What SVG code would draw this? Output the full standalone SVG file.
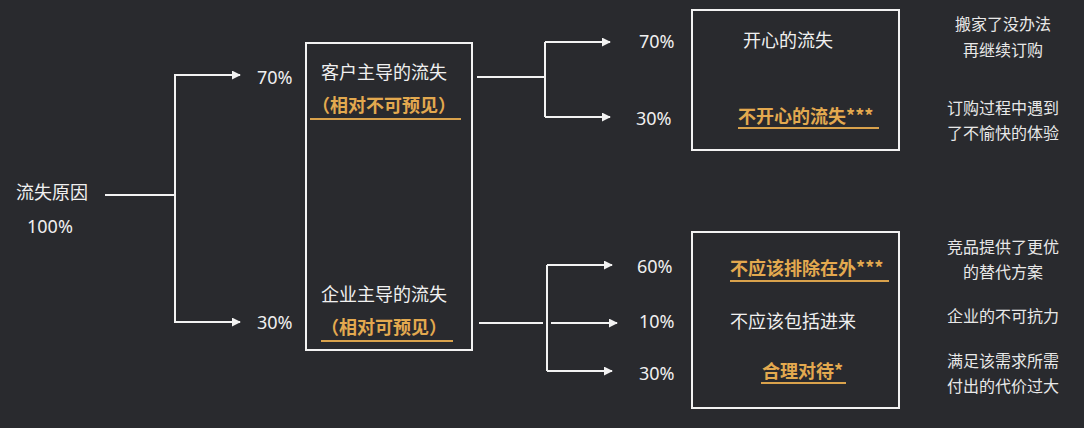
<svg xmlns="http://www.w3.org/2000/svg" width="1084" height="428" viewBox="0 0 1084 428">
<style>
.t{font-family:"Noto Sans","Noto Sans CJK SC",sans-serif;fill:#f0f0f0;font-size:18px}
.o{font-family:"Noto Sans CJK SC",sans-serif;fill:#e3a94f;font-size:18px;font-weight:bold}
.n{font-family:"Noto Sans","Noto Sans CJK SC",sans-serif;fill:#f0f0f0;font-size:18px}
.r{font-family:"Noto Sans CJK SC",sans-serif;fill:#e8e8e8;font-size:16px;text-anchor:middle}
.c{fill:none;stroke:#f2f2f2;stroke-width:2}
.box{fill:none;stroke:#f2f2f2;stroke-width:2}
.ul{stroke:#d9a24c;stroke-width:2}
</style>
<defs>
<marker id="ah" viewBox="0 0 10 10" refX="9" refY="5" markerWidth="4.5" markerHeight="4.5" orient="auto" markerUnits="strokeWidth">
<path d="M0,0 L10,5 L0,10 z" fill="#f2f2f2"/>
</marker>
</defs>
<rect width="1084" height="428" fill="#292a2e"/>
<g id="connectors">
<path class="c" d="M105,195 H175"/>
<path class="c" d="M240,75 H175 V322 H240" marker-end="url(#ah)"/>
<path class="c" d="M175,75 H240" marker-end="url(#ah)"/>
<path class="c" d="M477,77 H545"/>
<path class="c" d="M545,42 V117"/>
<path class="c" d="M545,42 H610" marker-end="url(#ah)"/>
<path class="c" d="M545,117 H610" marker-end="url(#ah)"/>
<path class="c" d="M479,323 H543"/>
<path class="c" d="M551,323 H617" marker-end="url(#ah)"/>
<path class="c" d="M547,265 V371"/>
<path class="c" d="M547,265 H612" marker-end="url(#ah)"/>
<path class="c" d="M547,371 H612" marker-end="url(#ah)"/>
</g>
<g id="root">
<text class="t" x="16" y="199">流失原因</text>
<text class="n" x="27" y="233">100%</text>
</g>
<g id="pct-left">
<text class="n" x="257" y="84">70%</text>
<text class="n" x="257" y="329">30%</text>
</g>
<g id="node-main">
<rect class="box" x="306" y="43" width="166" height="307"/>
<text class="t" x="384" y="79" text-anchor="middle">客户主导的流失</text>
<text class="o" x="384" y="112" text-anchor="middle">（相对不可预见）</text>
<line class="ul" x1="310" y1="119" x2="461" y2="119"/>
<text class="t" x="384" y="301" text-anchor="middle">企业主导的流失</text>
<text class="o" x="384" y="334" text-anchor="middle">（相对可预见）</text>
<line class="ul" x1="321" y1="341" x2="453" y2="341"/>
</g>
<g id="pct-right">
<text class="n" x="639" y="48">70%</text>
<text class="n" x="636" y="125">30%</text>
<text class="n" x="637" y="273">60%</text>
<text class="n" x="639" y="328">10%</text>
<text class="n" x="639" y="380">30%</text>
</g>
<g id="node-customer">
<rect class="box" x="692" y="10" width="207" height="140"/>
<text class="t" x="743" y="47">开心的流失</text>
<text class="o" x="738" y="123">不开心的流失***</text>
<line class="ul" x1="738" y1="128" x2="879" y2="128"/>
</g>
<g id="node-enterprise">
<rect class="box" x="692" y="232" width="207" height="176"/>
<text class="o" x="730" y="275">不应该排除在外***</text>
<line class="ul" x1="730" y1="281" x2="889" y2="281"/>
<text class="t" x="730" y="328">不应该包括进来</text>
<text class="o" x="762" y="378">合理对待*</text>
<line class="ul" x1="761" y1="383" x2="846" y2="383"/>
</g>
<g id="notes">
<text class="r" x="1003" y="30">搬家了没办法</text>
<text class="r" x="1003" y="56">再继续订购</text>
<text class="r" x="1003" y="114">订购过程中遇到</text>
<text class="r" x="1003" y="139">了不愉快的体验</text>
<text class="r" x="1003" y="253">竞品提供了更优</text>
<text class="r" x="1003" y="278">的替代方案</text>
<text class="r" x="1003" y="322">企业的不可抗力</text>
<text class="r" x="1003" y="367">满足该需求所需</text>
<text class="r" x="1003" y="392">付出的代价过大</text>
</g>
</svg>
